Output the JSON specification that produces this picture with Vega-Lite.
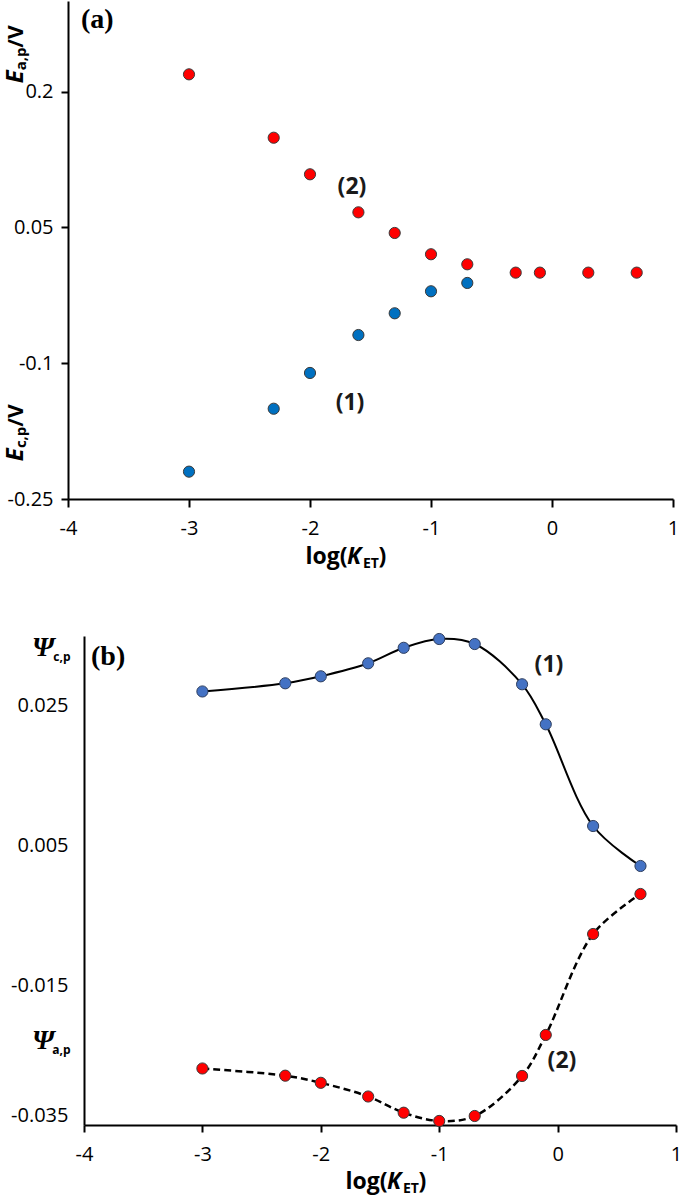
{
  "$schema": "https://vega.github.io/schema/vega-lite/v6.json",
  "padding": {"left": 3, "top": 1, "right": 0, "bottom": 0},
  "background": "white",
  "config": {
    "view": {"stroke": null},
    "font": "Open Sans",
    "axis": {"grid": false, "domainColor": "black", "tickColor": "black", "labelColor": "black", "titleColor": "black", "domainWidth": 2, "tickWidth": 2, "labelFont": "Open Sans", "titleFont": "Open Sans", "labelFontSize": 20, "labelOverlap": false, "labelBound": false, "labelFlush": false}
  },
  "datasets": {
    "panelA": [
      {"logK": -3, "E": 0.219, "peak": "anodic"},
      {"logK": -2.3, "E": 0.149, "peak": "anodic"},
      {"logK": -2, "E": 0.1086, "peak": "anodic"},
      {"logK": -1.6, "E": 0.0666, "peak": "anodic"},
      {"logK": -1.3, "E": 0.0438, "peak": "anodic"},
      {"logK": -1, "E": 0.0203, "peak": "anodic"},
      {"logK": -0.7, "E": 0.0092, "peak": "anodic"},
      {"logK": -0.3, "E": 0.0, "peak": "anodic"},
      {"logK": -0.1, "E": 0.0, "peak": "anodic"},
      {"logK": 0.3, "E": 0.0, "peak": "anodic"},
      {"logK": 0.7, "E": 0.0, "peak": "anodic"},
      {"logK": -3, "E": -0.2198, "peak": "cathodic"},
      {"logK": -2.3, "E": -0.1503, "peak": "cathodic"},
      {"logK": -2, "E": -0.1108, "peak": "cathodic"},
      {"logK": -1.6, "E": -0.0689, "peak": "cathodic"},
      {"logK": -1.3, "E": -0.0449, "peak": "cathodic"},
      {"logK": -1, "E": -0.0206, "peak": "cathodic"},
      {"logK": -0.7, "E": -0.0114, "peak": "cathodic"}
    ],
    "panelB": [
      {"logK": -3, "psi": 0.02706, "peak": "cathodic"},
      {"logK": -2.3, "psi": 0.02823, "peak": "cathodic"},
      {"logK": -2, "psi": 0.02923, "peak": "cathodic"},
      {"logK": -1.6, "psi": 0.03109, "peak": "cathodic"},
      {"logK": -1.3, "psi": 0.03331, "peak": "cathodic"},
      {"logK": -1, "psi": 0.03457, "peak": "cathodic"},
      {"logK": -0.7, "psi": 0.03385, "peak": "cathodic"},
      {"logK": -0.3, "psi": 0.02809, "peak": "cathodic"},
      {"logK": -0.1, "psi": 0.02236, "peak": "cathodic"},
      {"logK": 0.3, "psi": 0.0078, "peak": "cathodic"},
      {"logK": 0.7, "psi": 0.00208, "peak": "cathodic"},
      {"logK": -3, "psi": -0.02691, "peak": "anodic"},
      {"logK": -2.3, "psi": -0.02794, "peak": "anodic"},
      {"logK": -2, "psi": -0.02896, "peak": "anodic"},
      {"logK": -1.6, "psi": -0.03092, "peak": "anodic"},
      {"logK": -1.3, "psi": -0.03324, "peak": "anodic"},
      {"logK": -1, "psi": -0.03442, "peak": "anodic"},
      {"logK": -0.7, "psi": -0.03371, "peak": "anodic"},
      {"logK": -0.3, "psi": -0.02798, "peak": "anodic"},
      {"logK": -0.1, "psi": -0.02211, "peak": "anodic"},
      {"logK": 0.3, "psi": -0.00766, "peak": "anodic"},
      {"logK": 0.7, "psi": -0.00193, "peak": "anodic"}
    ],
    "labelsA": [
      {"logK": -1.653, "E": 0.0946, "text": "(2)"},
      {"logK": -1.669, "E": -0.144, "text": "(1)"}
    ],
    "labelsB": [
      {"logK": -0.073, "psi": 0.03085, "text": "(1)"},
      {"logK": 0.037, "psi": -0.02584, "text": "(2)"}
    ]
  },
  "bounds": "flush",
  "spacing": 137,
  "vconcat": [
    {
      "width": 605,
      "height": 498,
      "title": {"text": "(a)", "anchor": "start", "frame": "group", "orient": "top", "offset": 0, "dx": 13, "dy": 55, "baseline": "alphabetic", "font": "Liberation Serif", "fontSize": 28, "fontWeight": "bold", "color": "black"},
      "layer": [
        {
          "data": {"name": "panelA"},
          "transform": [{"filter": "datum.peak == 'anodic'"}],
          "mark": {"type": "circle", "fill": "#FF0000", "stroke": "#3a3a3a", "strokeWidth": 1, "size": 125, "opacity": 1},
          "encoding": {
            "x": {"field": "logK", "type": "quantitative", "scale": {"domain": [-4, 1], "nice": false, "zero": false},
              "axis": {"orient": "bottom", "values": [-4, -3, -2, -1, 0, 1], "labelExpr": "toString(datum.value)", "title": null, "tickSize": 8, "labelPadding": 11}},
            "y": {"field": "E", "type": "quantitative", "scale": {"domain": [-0.25, 0.3], "nice": false, "zero": false},
              "axis": {"orient": "left", "values": [0.2, 0.05, -0.1, -0.25], "labelExpr": "toString(datum.value)", "title": null, "tickSize": 7, "labelPadding": 8}}
          }
        },
        {
          "data": {"name": "panelA"},
          "transform": [{"filter": "datum.peak == 'cathodic'"}],
          "mark": {"type": "circle", "fill": "#0070C0", "stroke": "#3a3a3a", "strokeWidth": 1, "size": 125, "opacity": 1},
          "encoding": {
            "x": {"field": "logK", "type": "quantitative",
              "axis": {"orient": "bottom", "values": [-2.0413, -1.438], "labelExpr": "datum.value < -1.8 ? 'log(' : ')'", "ticks": false, "domain": false, "labelAlign": "left", "labelBaseline": "alphabetic", "labelPadding": 64, "labelFontSize": 23, "labelFontWeight": "bold",
                "title": "K", "titleX": 278.4, "titleY": 64, "titleAlign": "left", "titleBaseline": "alphabetic", "titleFontSize": 23, "titleFontWeight": "bold", "titleFontStyle": "italic"}},
            "y": {"field": "E", "type": "quantitative",
              "axis": {"orient": "left", "values": [0.2169, -0.2005], "labelExpr": "'E'", "ticks": false, "domain": false, "labelAngle": 270, "labelAlign": "center", "labelBaseline": "alphabetic", "labelPadding": 46, "labelFontSize": 24, "labelFontWeight": "bold", "labelFontStyle": "italic",
                "title": "/V", "titleAngle": 270, "titleX": -46, "titleY": 35, "titleAlign": "center", "titleBaseline": "alphabetic", "titleFontSize": 21, "titleFontWeight": "bold"}}
          }
        },
        {
          "data": {"name": "labelsA"},
          "mark": {"type": "text", "font": "Open Sans", "fontSize": 23, "fontWeight": "bold", "color": "#1a1a1a", "align": "center", "baseline": "middle"},
          "encoding": {
            "text": {"field": "text"},
            "x": {"field": "logK", "type": "quantitative",
              "axis": {"orient": "bottom", "labels": false, "ticks": false, "domain": false, "title": "ET", "titleX": 294.5, "titleY": 68, "titleAlign": "left", "titleBaseline": "alphabetic", "titleFontSize": 14, "titleFontWeight": "bold"}},
            "y": {"field": "E", "type": "quantitative",
              "axis": {"orient": "left", "values": [0.2367, -0.1814], "labelExpr": "datum.value > 0 ? 'a,p' : 'c,p'", "ticks": false, "domain": false, "labelAngle": 270, "labelAlign": "center", "labelBaseline": "alphabetic", "labelPadding": 43, "labelFontSize": 15, "labelFontWeight": "bold",
                "title": "/V", "titleAngle": 270, "titleX": -46, "titleY": 414, "titleAlign": "center", "titleBaseline": "alphabetic", "titleFontSize": 21, "titleFontWeight": "bold"}}
          }
        }
      ],
      "resolve": {"axis": {"x": "independent", "y": "independent"}}
    },
    {
      "width": 608,
      "height": 489,
      "title": {"text": "(b)", "anchor": "start", "frame": "group", "orient": "top", "offset": 0, "dx": 23, "dy": 62, "baseline": "alphabetic", "font": "Liberation Serif", "fontSize": 28, "fontWeight": "bold", "color": "black"},
      "layer": [
        {
          "data": {"name": "panelB"},
          "transform": [{"filter": "datum.peak == 'cathodic'"}],
          "mark": {"type": "line", "interpolate": "catmull-rom", "color": "black", "strokeWidth": 2},
          "encoding": {
            "x": {"field": "logK", "type": "quantitative", "scale": {"domain": [-4, 1], "range": [16, 608], "nice": false, "zero": false},
              "axis": {"orient": "bottom", "values": [-4, -3, -2, -1, 0, 1], "labelExpr": "toString(datum.value)", "title": null, "tickSize": 7, "labelPadding": 12}},
            "y": {"field": "psi", "type": "quantitative", "scale": {"domain": [-0.035, 0.035], "nice": false, "zero": false},
              "axis": {"orient": "left", "values": [0.025, 0.005, -0.015, -0.035], "labelExpr": "toString(datum.value)", "title": null, "ticks": false, "tickSize": 0, "labelPadding": 16, "labelFlush": true, "offset": -16}}
          }
        },
        {
          "data": {"name": "panelB"},
          "transform": [{"filter": "datum.peak == 'cathodic'"}],
          "mark": {"type": "circle", "fill": "#4472C4", "stroke": "#2f3f5f", "strokeWidth": 1, "size": 125, "opacity": 1},
          "encoding": {
            "x": {"field": "logK", "type": "quantitative", "axis": null},
            "y": {"field": "psi", "type": "quantitative", "axis": null}
          }
        },
        {
          "data": {"name": "panelB"},
          "transform": [{"filter": "datum.peak == 'anodic'"}],
          "mark": {"type": "line", "interpolate": "catmull-rom", "color": "black", "strokeWidth": 2.5, "strokeDash": [7, 4]},
          "encoding": {
            "x": {"field": "logK", "type": "quantitative",
              "axis": {"orient": "bottom", "values": [-1.795, -1.18], "labelExpr": "datum.value < -1.5 ? 'log(' : ')'", "ticks": false, "domain": false, "labelAlign": "left", "labelBaseline": "alphabetic", "labelPadding": 63, "labelFontSize": 23, "labelFontWeight": "bold",
                "title": "K", "titleX": 318.4, "titleY": 63, "titleAlign": "left", "titleBaseline": "alphabetic", "titleFontSize": 23, "titleFontWeight": "bold", "titleFontStyle": "italic"}},
            "y": {"field": "psi", "type": "quantitative",
              "axis": {"orient": "left", "values": [0.03214, -0.02412], "labelExpr": "'Ψ'", "ticks": false, "tickSize": 0, "domain": false, "offset": -16, "labelAlign": "right", "labelBaseline": "alphabetic", "labelPadding": 30, "labelFont": "Liberation Serif", "labelFontSize": 28, "labelFontWeight": "bold", "labelFontStyle": "italic", "title": null}}
          }
        },
        {
          "data": {"name": "panelB"},
          "transform": [{"filter": "datum.peak == 'anodic'"}],
          "mark": {"type": "circle", "fill": "#FF0000", "stroke": "#3a3a3a", "strokeWidth": 1, "size": 125, "opacity": 1},
          "encoding": {
            "x": {"field": "logK", "type": "quantitative", "axis": null},
            "y": {"field": "psi", "type": "quantitative", "axis": null}
          }
        },
        {
          "data": {"name": "labelsB"},
          "mark": {"type": "text", "font": "Open Sans", "fontSize": 23, "fontWeight": "bold", "color": "#1a1a1a", "align": "center", "baseline": "middle"},
          "encoding": {
            "text": {"field": "text"},
            "x": {"field": "logK", "type": "quantitative",
              "axis": {"orient": "bottom", "labels": false, "ticks": false, "domain": false, "title": "ET", "titleX": 334.5, "titleY": 67, "titleAlign": "left", "titleBaseline": "alphabetic", "titleFontSize": 14, "titleFontWeight": "bold"}},
            "y": {"field": "psi", "type": "quantitative",
              "axis": {"orient": "left", "values": [0.03156, -0.02483], "labelExpr": "datum.value > 0 ? 'c,p' : 'a,p'", "ticks": false, "tickSize": 0, "domain": false, "offset": -16, "labelAlign": "right", "labelBaseline": "alphabetic", "labelPadding": 14, "labelFontSize": 12, "labelFontWeight": "bold", "title": null}}
          }
        }
      ],
      "resolve": {"axis": {"x": "independent", "y": "independent"}}
    }
  ]
}
